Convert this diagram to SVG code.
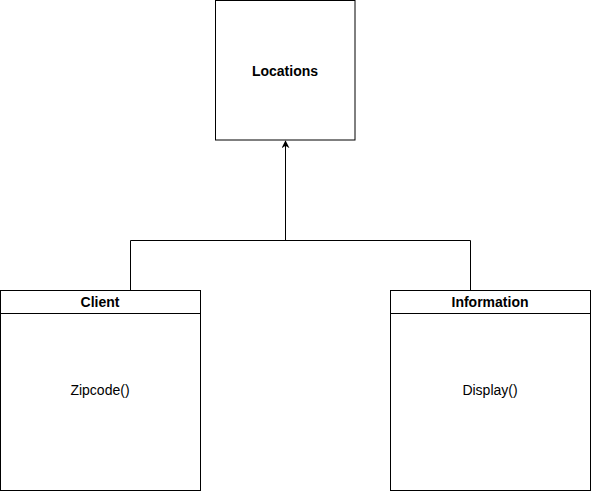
<svg xmlns="http://www.w3.org/2000/svg" width="591" height="491" viewBox="0 0 591 491">
<style>
.box{fill:#fff;stroke:#000;stroke-width:1}
.t{font-family:"Liberation Sans",Arial,sans-serif;font-size:14px;fill:#000;text-anchor:middle;dominant-baseline:central}
.b{font-weight:bold}
.c{fill:none;stroke:#000;stroke-width:1}
</style>
<defs>
<marker id="arr" viewBox="0 0 10 10" refX="9" refY="5" markerWidth="8" markerHeight="8" markerUnits="userSpaceOnUse" orient="auto">
<path d="M0,0 L10,5 L0,10 L3,5 Z" fill="#000"/>
</marker>
</defs>
<rect width="591" height="491" fill="#fff"/>
<g id="connectors">
<path class="c" d="M130.5,290 V240.5 H470.5 V290"/>
<path class="c" d="M285.5,240.5 V141" marker-end="url(#arr)"/>
</g>
<g id="locations">
<rect class="box" x="215.5" y="0.5" width="139.5" height="139.5"/>
<text class="t b" x="285" y="71">Locations</text>
</g>
<g id="client">
<rect class="box" x="0.5" y="290.5" width="200" height="200"/>
<line class="c" x1="0.5" y1="313.5" x2="200.5" y2="313.5"/>
<text class="t b" x="100" y="302">Client</text>
<text class="t" x="100" y="390">Zipcode()</text>
</g>
<g id="information">
<rect class="box" x="390.5" y="290.5" width="200" height="200"/>
<line class="c" x1="390.5" y1="313.5" x2="590.5" y2="313.5"/>
<text class="t b" x="490" y="302">Information</text>
<text class="t" x="490" y="390">Display()</text>
</g>
</svg>
